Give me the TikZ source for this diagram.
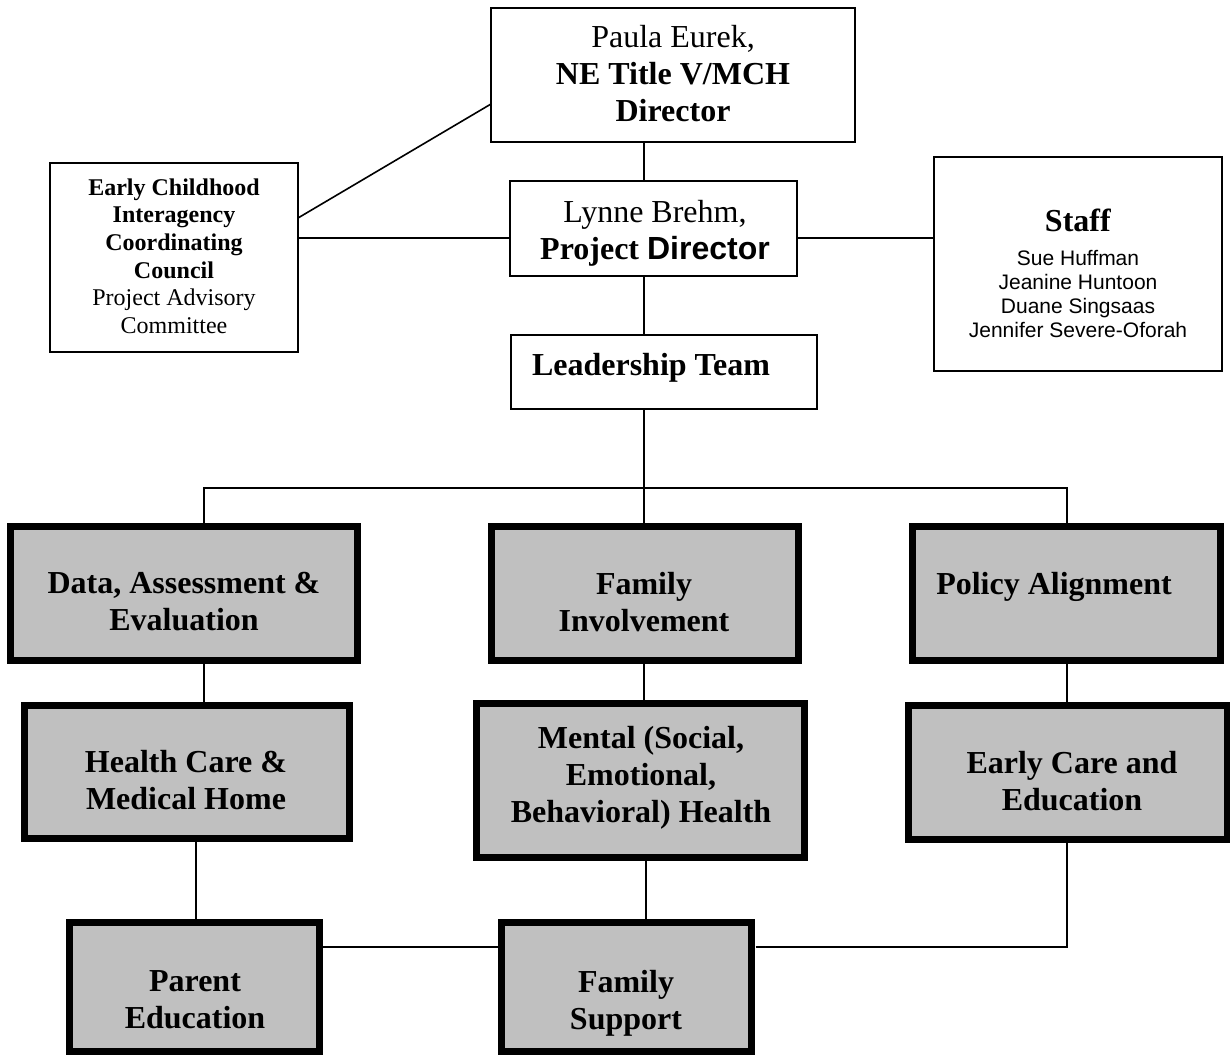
\documentclass[tikz,border=0pt]{standalone}
\usepackage{fontspec}
\setmainfont{Liberation Serif}
\newfontfamily\arialf{Liberation Sans}
\definecolor{boxgray}{HTML}{C0C0C0}
\tikzset{
  thinbox/.style={draw=black, line width=2pt, fill=white, inner sep=0pt, outer sep=0pt},
  thickbox/.style={draw=black, line width=7pt, fill=boxgray, inner sep=0pt, outer sep=0pt},
  bigtxt/.style={font=\fontsize{32}{37}\selectfont, align=center, inner sep=0pt},
  midtxt/.style={font=\fontsize{24}{27.6}\selectfont, align=center, inner sep=0pt},
  smalltxt/.style={font=\fontsize{21}{24}\selectfont\arialf, align=center, inner sep=0pt},
  conn/.style={line width=1.6pt, black},
}
\begin{document}
\begin{tikzpicture}[x=1pt,y=-1pt]
\useasboundingbox (0,0) rectangle (1230,1059);

% level coordinates
\coordinate (yd1) at (0,104);
\coordinate (yd2) at (0,218);
\coordinate (yh) at (0,238);
\coordinate (ybus) at (0,488);
\coordinate (ybot) at (0,947);
\coordinate (xs) at (644,0);
\coordinate (xl) at (204,0);
\coordinate (xr) at (1067,0);
\coordinate (xpl) at (196,0);
\coordinate (xm) at (646,0);

% top boxes
\node[thinbox, minimum width=364pt, minimum height=134pt] (paula) at (673,75) {};
\node[bigtxt] (paula-t) at (673,74) {Paula Eurek,\\\textbf{NE Title V/MCH}\\\textbf{Director}};

\node[thinbox, minimum width=248pt, minimum height=189pt] (ecicc) at (174,257.5) {};
\node[midtxt] (ecicc-t) at (174,256) {\textbf{Early Childhood}\\\textbf{Interagency}\\\textbf{Coordinating}\\\textbf{Council}\\Project Advisory\\Committee};

\node[thinbox, minimum width=287pt, minimum height=95pt] (lynne) at (653.5,228.5) {};
\node[bigtxt] (lynne-t) at (655,233) {Lynne Brehm,\\\textbf{Project {\arialf Director}}};

\node[thinbox, minimum width=306pt, minimum height=74pt] (lead) at (664,372) {};
\node[bigtxt] (lead-t) at (651,368) {\textbf{Leadership Team}};

\node[thinbox, minimum width=288pt, minimum height=214pt] (staff) at (1078,264) {};
\node[bigtxt] (staff-t) at (1078,220) {\textbf{Staff}};
\node[smalltxt] (staff-n) at (1078,294) {Sue Huffman\\Jeanine Huntoon\\Duane Singsaas\\Jennifer Severe-Oforah};

% grey boxes
\node[thickbox, minimum width=347pt, minimum height=134pt] (data) at (184,593.5) {};
\node[bigtxt] (data-t) at (184,602) {\textbf{Data, Assessment \&}\\\textbf{Evaluation}};

\node[thickbox, minimum width=307pt, minimum height=134pt] (faminv) at (645,593.5) {};
\node[bigtxt] (faminv-t) at (644,602) {\textbf{Family}\\\textbf{Involvement}};

\node[thickbox, minimum width=308pt, minimum height=134pt] (policy) at (1066.5,593.5) {};
\node[bigtxt] (policy-t) at (1054,587) {\textbf{Policy Alignment}};

\node[thickbox, minimum width=325pt, minimum height=133pt] (health) at (187,772) {};
\node[bigtxt] (health-t) at (186,780.5) {\textbf{Health Care \&}\\\textbf{Medical Home}};

\node[thickbox, minimum width=328pt, minimum height=154pt] (mental) at (640.5,780.5) {};
\node[bigtxt] (mental-t) at (641,778) {\textbf{Mental (Social,}\\\textbf{Emotional,}\\\textbf{Behavioral) Health}};

\node[thickbox, minimum width=319pt, minimum height=134pt] (early) at (1068,772.5) {};
\node[bigtxt] (early-t) at (1072,781.5) {\textbf{Early Care and}\\\textbf{Education}};

\node[thickbox, minimum width=250pt, minimum height=129pt] (parent) at (194.5,987) {};
\node[bigtxt] (parent-t) at (195,999.5) {\textbf{Parent}\\\textbf{Education}};

\node[thickbox, minimum width=250pt, minimum height=129pt] (famsup) at (626.5,987) {};
\node[bigtxt] (famsup-t) at (626,1003) {\textbf{Family}\\\textbf{Support}};

% connectors
\draw[conn] (paula.south -| xs) -- (lynne.north -| xs);
\draw[conn] (lynne.south -| xs) -- (lead.north -| xs);
\draw[conn] (ecicc.east |- yh) -- (lynne.west |- yh);
\draw[conn] (lynne.east |- yh) -- (staff.west |- yh);
\draw[conn] (ecicc.east |- yd2) -- (paula.west |- yd1);
\draw[conn] (lead.south -| xs) -- (xs |- ybus);
\draw[conn] (data.north -| xl) -- (xl |- ybus) -- (xr |- ybus) -- (policy.north -| xr);
\draw[conn] (xs |- ybus) -- (faminv.north -| xs);
\draw[conn] (data.south -| xl) -- (health.north -| xl);
\draw[conn] (faminv.south -| xs) -- (mental.north -| xs);
\draw[conn] (policy.south -| xr) -- (early.north -| xr);
\draw[conn] (health.south -| xpl) -- (parent.north -| xpl);
\draw[conn] (mental.south -| xm) -- (famsup.north -| xm);
\draw[conn] (parent.east |- ybot) -- (famsup.west |- ybot);
\draw[conn, shorten <=4pt] (famsup.east |- ybot) -- (xr |- ybot) -- (early.south -| xr);
\end{tikzpicture}
\end{document}
